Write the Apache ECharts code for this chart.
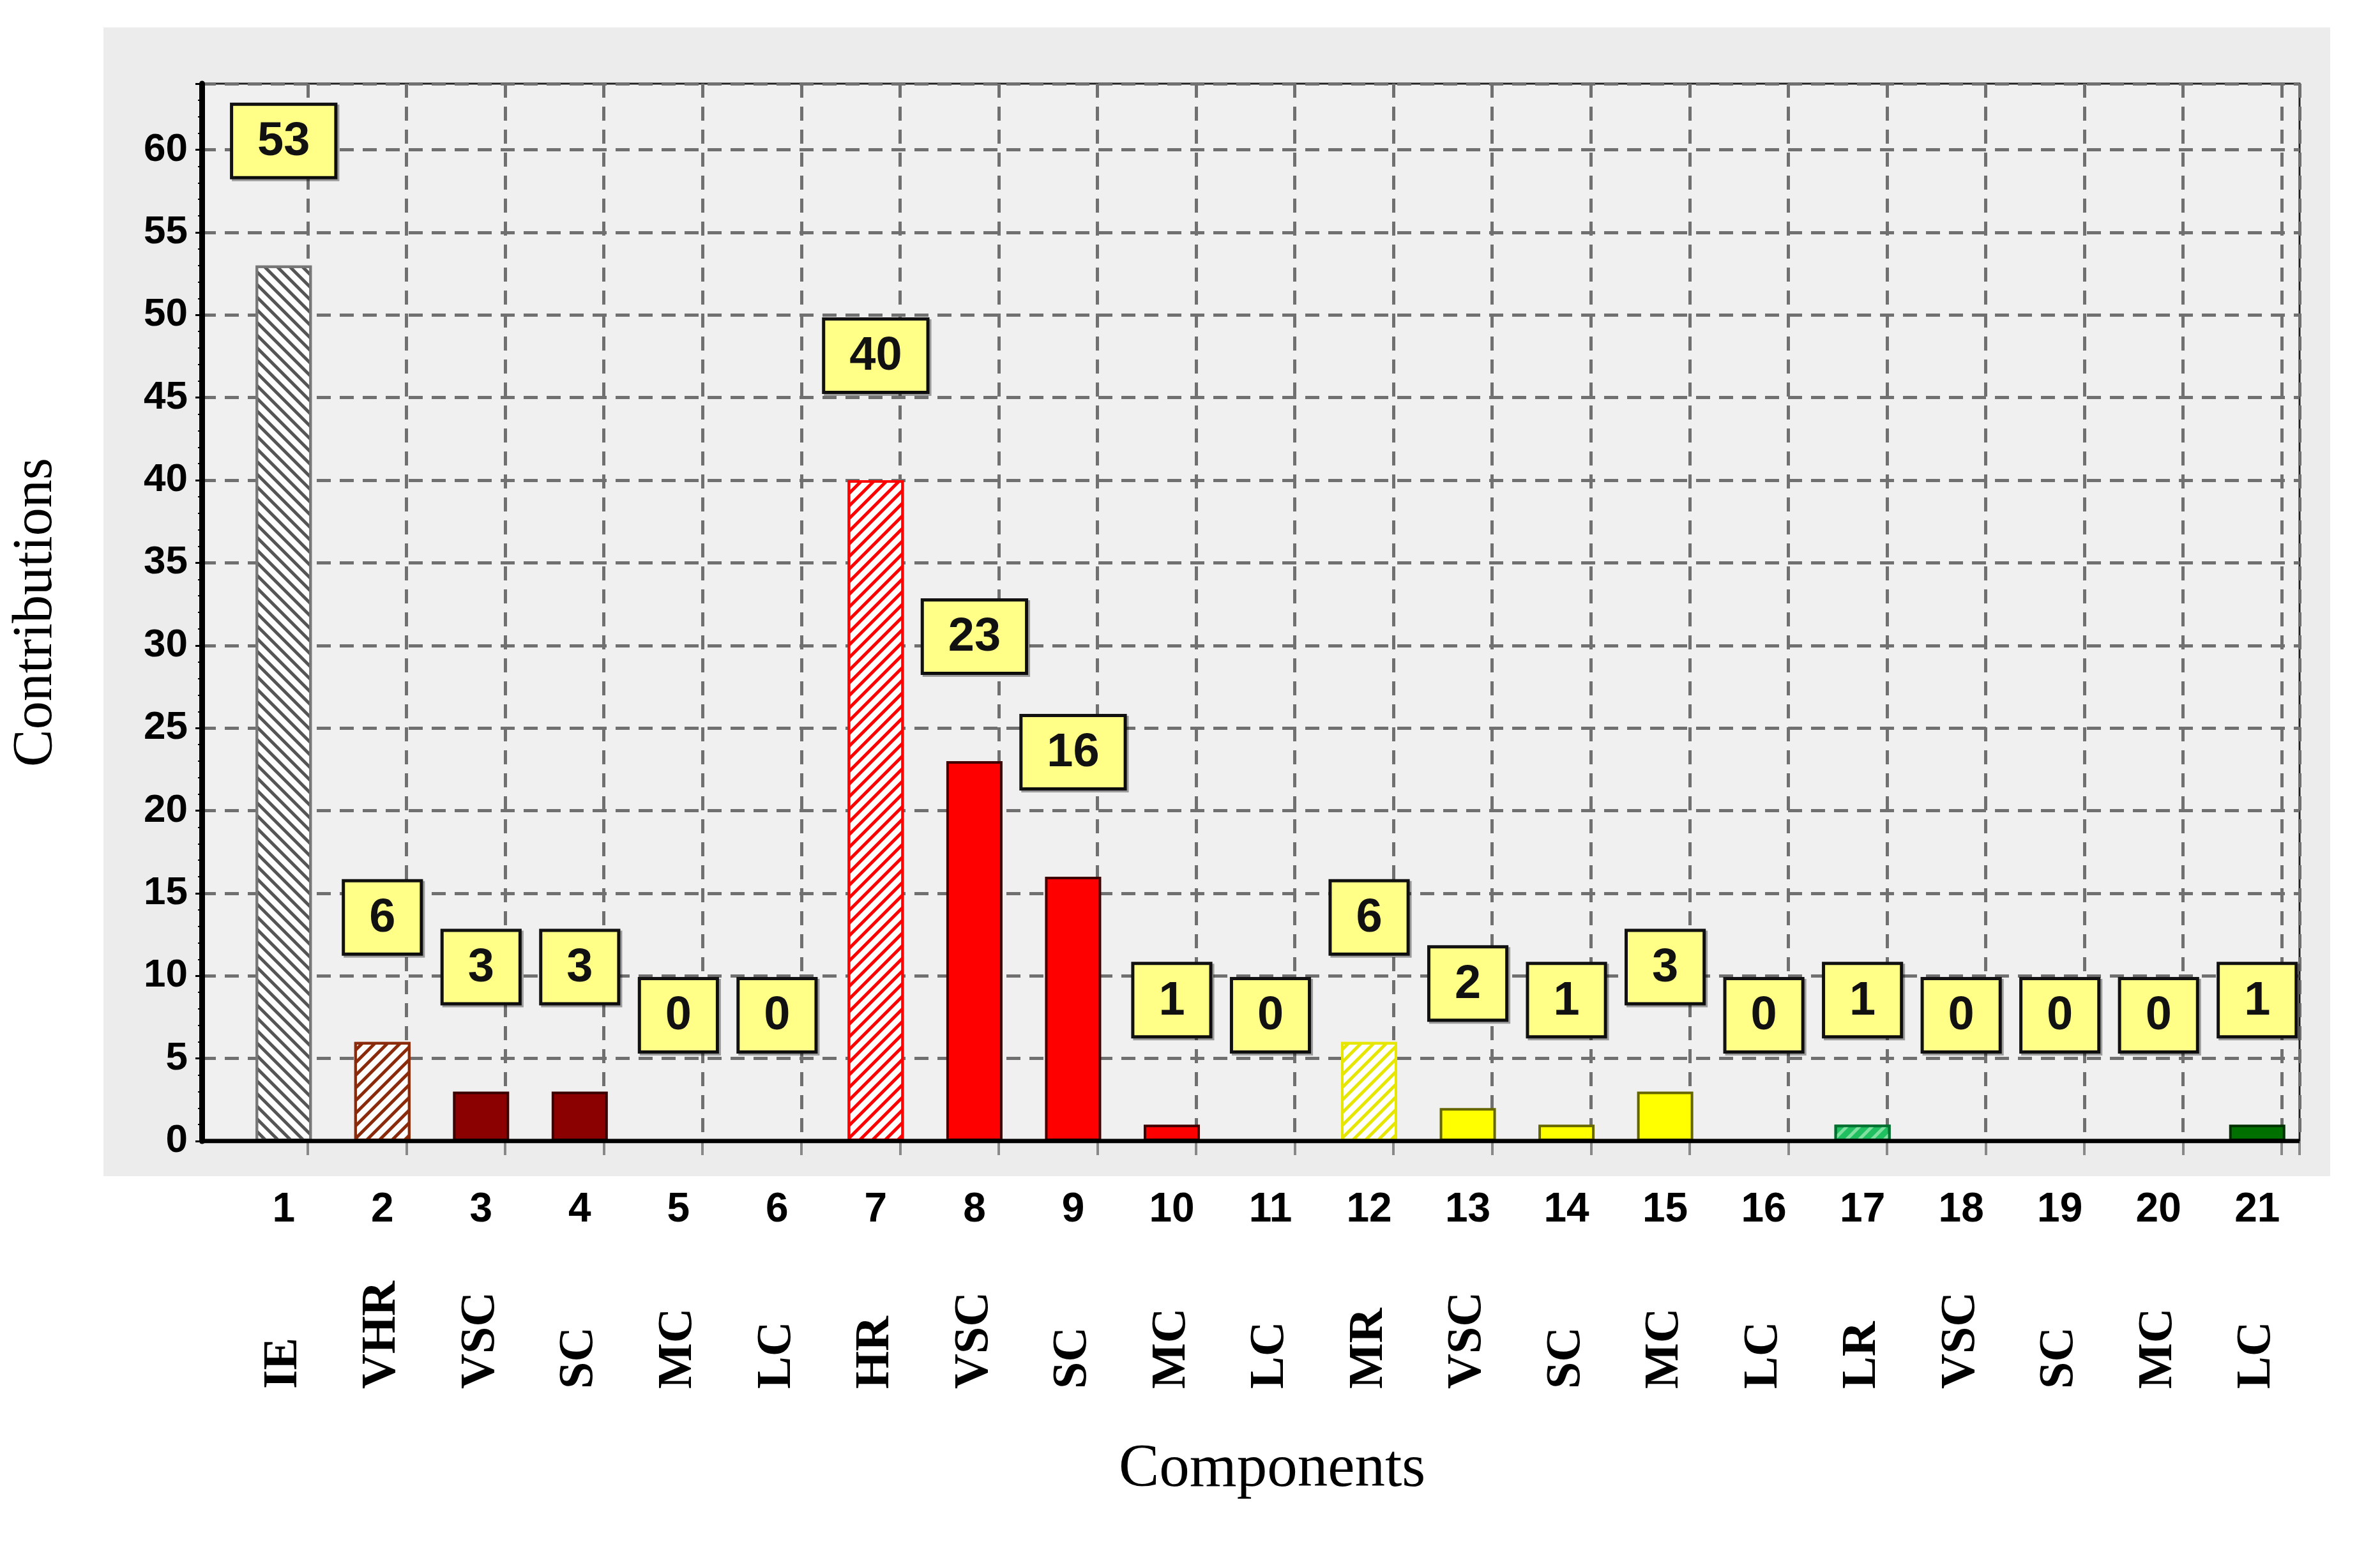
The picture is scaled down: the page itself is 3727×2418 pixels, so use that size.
<!DOCTYPE html>
<html lang="en">
<head>
<meta charset="UTF-8">
<title>Contributions</title>
<script src="https://cdn.jsdelivr.net/npm/echarts@6/dist/echarts.min.js"></script>
<style>
  html, body { margin: 0; background: #fff; }
  #wrap { width: 3727px; height: 2418px; }
</style>
</head>
<body>
<div id="wrap"></div>
<script>
  // data
  const numbers = ['1','2','3','4','5','6','7','8','9','10','11','12','13','14','15','16','17','18','19','20','21']
  const components = ['IE','VHR','VSC','SC','MC','LC','HR','VSC','SC','MC','LC','MR','VSC','SC','MC','LC','LR','VSC','SC','MC','LC']
  const contributions = [53, 6, 3, 3, 0, 0, 40, 23, 16, 1, 0, 6, 2, 1, 3, 0, 1, 0, 0, 0, 1]
  const yTicks = [0, 5, 10, 15, 20, 25, 30, 35, 40, 45, 50, 55, 60]

  // bar styles (fill, border, hatch colour, hatch direction)
  const styles = [
    ['#ffffff', '#777777', '#555555', 1],
    ['#ffffff', '#8b2a0a', '#8b2a0a', -1],
    ['#8b0000', '#3a0000', null],
    ['#8b0000', '#3a0000', null],
    ['#8b0000', '#3a0000', null],
    ['#8b0000', '#3a0000', null],
    ['#ffffff', '#ff0000', '#ff0000', -1],
    ['#ff0000', '#400000', null],
    ['#ff0000', '#400000', null],
    ['#ff0000', '#400000', null],
    ['#ff0000', '#400000', null],
    ['#ffffff', '#e6e600', '#e6e600', -1],
    ['#ffff00', '#666600', null],
    ['#ffff00', '#666600', null],
    ['#ffff00', '#666600', null],
    ['#ffff00', '#666600', null],
    ['#20c060', '#007030', '#80e0a0', -1],
    ['#007000', '#003000', null],
    ['#007000', '#003000', null],
    ['#007000', '#003000', null],
    ['#007000', '#003000', null]
  ]

  const chart = echarts.init(document.querySelector('#wrap'))

  const barData = contributions.map((v, i) => {
    const s = styles[i]
    const item = { value: v, itemStyle: { color: s[0], borderColor: s[1], borderWidth: 4 } }
    if (s[2]) {
      item.itemStyle.decal = {
        symbol: 'rect', color: s[2], dashArrayX: [1, 0], dashArrayY: [5, 9],
        rotation: s[3] * Math.PI / 4
      }
    }
    return item
  })

  const yMax = 64
  const gridLine = { show: true, lineStyle: { color: '#707070', width: 5, type: [22, 14] } }

  const ops = {
    animation: false,
    graphic: [
      { type: 'rect', z: -10, shape: { x: 162, y: 43, width: 3487, height: 1799 }, style: { fill: '#ececec' } },
      { type: 'text', left: 1752, top: 2255, style: { text: 'Components', font: '95px "Liberation Serif"', fill: '#000' } }
    ],
    grid: [
      { left: 316, right: 126, top: 131, bottom: 631, borderColor: '#222', borderWidth: 3, show: true, backgroundColor: '#f0f0f0' },
      { left: 367, right: 115, top: 131, bottom: 631 },
      { left: 482, right: 126, top: 131, bottom: 631 }
    ],
    xAxis: [
      { gridIndex: 0, type: 'value', min: 0, max: 1, show: false },
      {
        gridIndex: 1, type: 'category', data: numbers,
        axisLine: { show: false }, axisTick: { show: false }, splitLine: { show: false },
        axisLabel: { margin: 76, fontFamily: 'Liberation Sans', fontWeight: 'bold', fontSize: 64, color: '#000' }
      },
      {
        gridIndex: 1, type: 'category', data: components, position: 'bottom',
        axisLine: { show: false }, axisTick: { show: false },
        axisLabel: { rotate: 90, align: 'left', margin: 388, fontFamily: 'Liberation Serif', fontWeight: 'bold', fontSize: 76, color: '#000' }
      },
      {
        gridIndex: 2, type: 'value', min: 0, max: 20.18, interval: 1,
        axisLine: { show: false }, axisLabel: { show: false },
        axisTick: { show: true, length: 22, lineStyle: { color: '#888', width: 4 } },
        splitLine: gridLine
      }
    ],
    yAxis: [
      {
        gridIndex: 0, type: 'value', min: 0, max: yMax, interval: 5,
        name: 'Contributions', nameLocation: 'middle', nameGap: 215,
        nameTextStyle: { fontFamily: 'Liberation Serif', fontSize: 88, color: '#000' },
        axisLine: { show: true, lineStyle: { color: '#000', width: 9 } },
        axisTick: { show: true, length: 10, lineStyle: { color: '#000', width: 3 } },
        minorTick: { show: true, splitNumber: 5, length: 6, lineStyle: { color: '#000', width: 2 } },
        axisLabel: {
          fontFamily: 'Liberation Sans', fontWeight: 'bold', fontSize: 62, color: '#000', margin: 22,
          formatter: v => yTicks.includes(v) ? String(v) : ''
        },
        splitLine: gridLine
      },
      { gridIndex: 1, type: 'value', min: 0, max: yMax, show: false },
      { gridIndex: 2, type: 'value', min: 0, max: yMax, show: false }
    ],
    series: [
      {
        type: 'bar', xAxisIndex: 1, yAxisIndex: 1, barWidth: 88, z: 5,
        data: barData,
        label: {
          show: true, position: 'top', distance: 140,
          fontFamily: 'Liberation Sans', fontWeight: 'bold', fontSize: 74, color: '#111',
          backgroundColor: '#ffff88', borderColor: '#111', borderWidth: 5,
          padding: [20, 38, 16, 38], shadowColor: 'rgba(0,0,0,0.35)', shadowOffsetX: 3, shadowOffsetY: 3
        }
      },
      {
        // thick black base line at zero
        type: 'line', xAxisIndex: 0, yAxisIndex: 0, symbol: 'none', silent: true, z: 6,
        data: [[0, 0], [1, 0]], lineStyle: { color: '#000', width: 7 }
      }
    ]
  }

  chart.setOption(ops)
</script>
</body>
</html>
